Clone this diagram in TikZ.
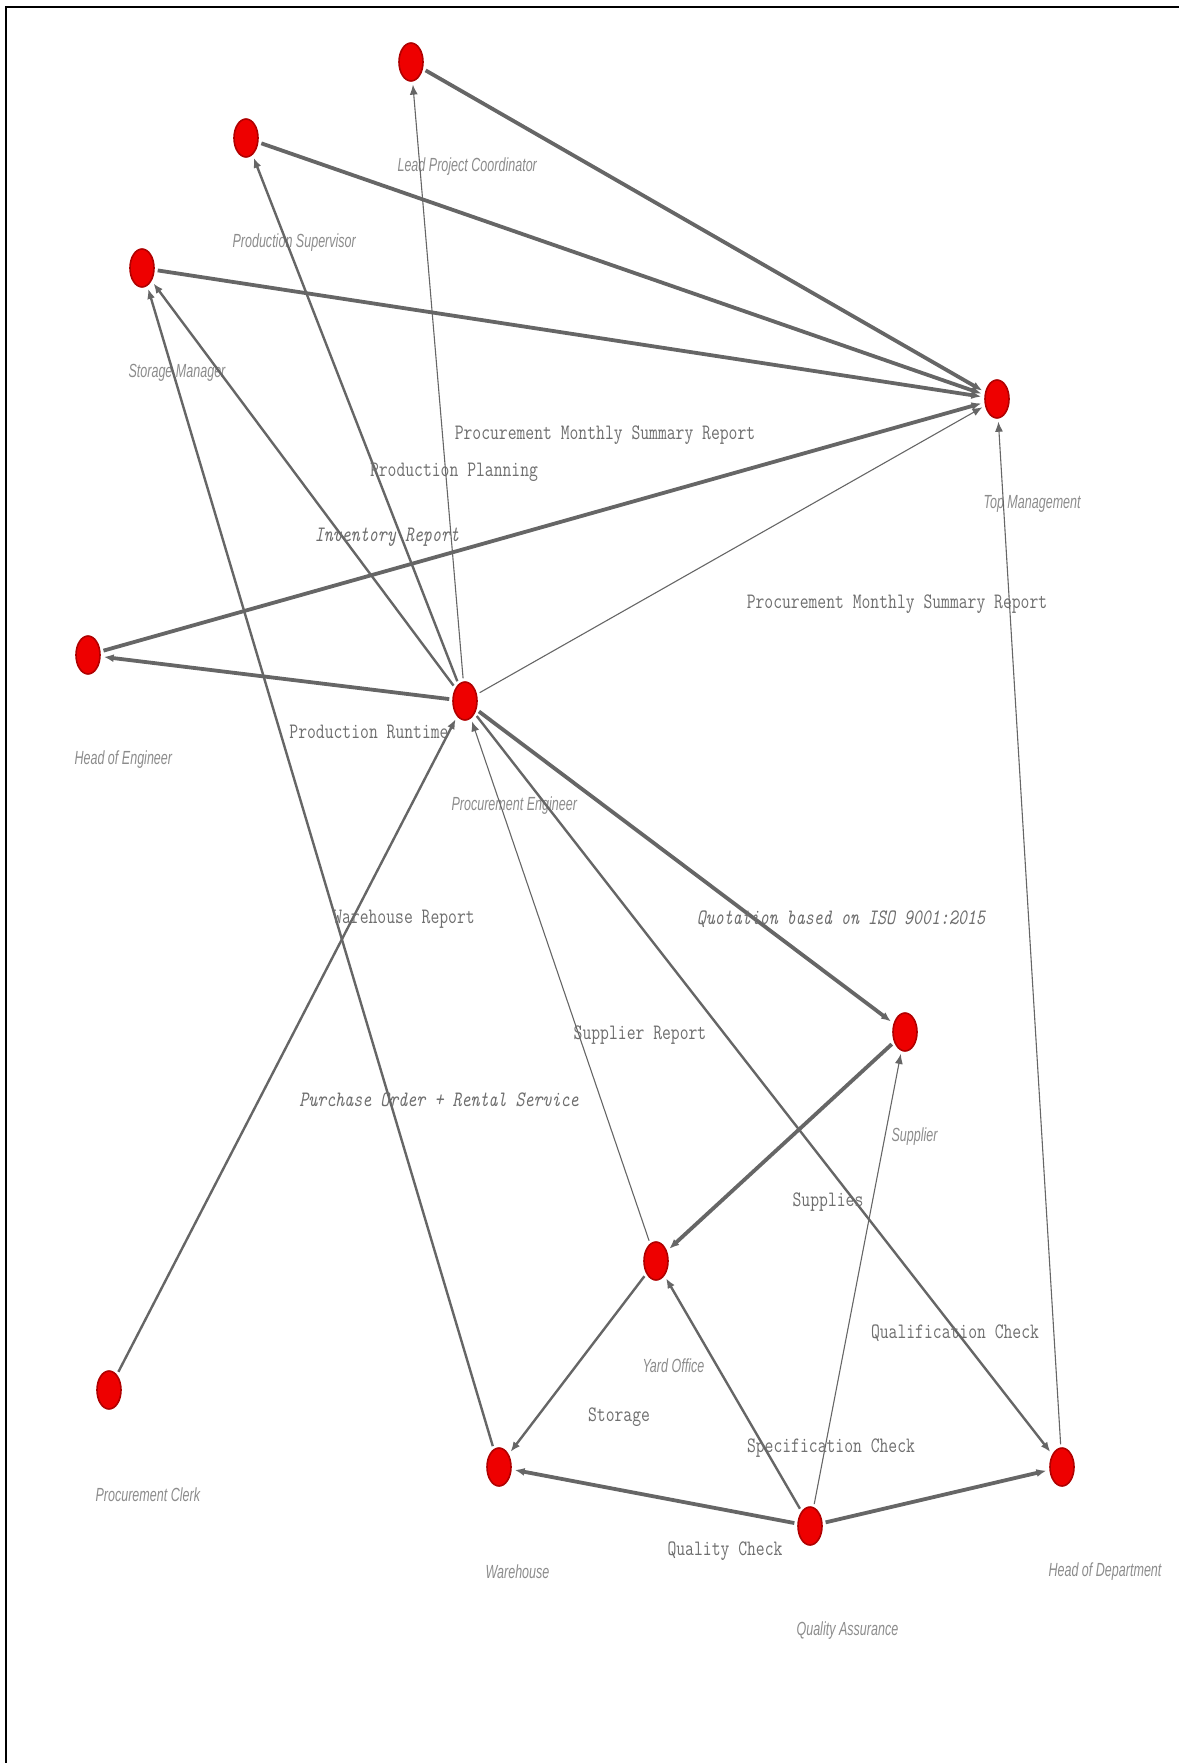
\documentclass[tikz,border=0pt]{standalone}
\usepackage{fontspec}
\usetikzlibrary{shapes.geometric,arrows.meta}
\newfontfamily\flowfont[FakeStretch=0.78]{Latin Modern Mono}
\newfontfamily\rolefont[FakeStretch=0.66]{Liberation Sans}
\definecolor{nodered}{HTML}{EE0000}
\definecolor{noderim}{HTML}{B00000}
\definecolor{linkgray}{HTML}{666666}
\definecolor{flowgray}{HTML}{6E6E6E}
\definecolor{rolegray}{HTML}{8C8C8C}
\tikzset{
    heavyedge/.style={line width=3.8pt},
    midedge/.style={line width=2.4pt},
    lightedge/.style={line width=1.1pt}
}
\begin{document}
\begin{tikzpicture}[x=1pt,y=-1pt,>={Latex[length=10pt,width=8pt]}]
            \useasboundingbox (0,0) rectangle (1179,1763);
            \draw[line width=2.5pt] (6,1763) -- (6,7) -- (1179,7);

            \begin{scope}[every node/.style={ellipse,draw=noderim,fill=nodered,line width=1.6pt,minimum width=24pt,minimum height=38pt,inner sep=0pt}]
                \node (lpc) at (411,62) {};
                \node (ps) at (246,138) {};
                \node (sm) at (142,268) {};
                \node (tm) at (997,399) {};
                \node (he) at (88,655) {};
                \node (pe) at (465,701) {};
                \node (sup) at (905,1032) {};
                \node (yo) at (656,1261) {};
                \node (pc) at (109,1390) {};
                \node (wh) at (499,1467) {};
                \node (qa) at (810,1526) {};
                \node (hd) at (1062,1467) {};
            \end{scope}

            \begin{scope}[every node/.style={anchor=west,text=rolegray,font=\rolefont\itshape\fontsize{19}{22}\selectfont}]
                \node (lpclabel) at ([shift={(-17,105)}]lpc.center) {Lead Project Coordinator};
                \node (pslabel) at ([shift={(-17,105)}]ps.center) {Production Supervisor};
                \node (smlabel) at ([shift={(-17,105)}]sm.center) {Storage Manager};
                \node (tmlabel) at ([shift={(-17,105)}]tm.center) {Top Management};
                \node (helabel) at ([shift={(-17,105)}]he.center) {Head of Engineer};
                \node (pelabel) at ([shift={(-17,105)}]pe.center) {Procurement Engineer};
                \node (suplabel) at ([shift={(-17,105)}]sup.center) {Supplier};
                \node (yolabel) at ([shift={(-17,105)}]yo.center) {Yard Office};
                \node (pclabel) at ([shift={(-17,105)}]pc.center) {Procurement Clerk};
                \node (whlabel) at ([shift={(-17,105)}]wh.center) {Warehouse};
                \node (qalabel) at ([shift={(-17,105)}]qa.center) {Quality Assurance};
                \node (hdlabel) at ([shift={(-17,105)}]hd.center) {Head of Department};
            \end{scope}

            \begin{scope}[draw=linkgray,shorten >=3pt,shorten <=3pt]
                \path [->,heavyedge] (lpc) edge (tm);
                \path [->,heavyedge] (ps) edge (tm);
                \path [->,heavyedge] (sm) edge (tm);
                \path [->,heavyedge] (he) edge (tm);
                \path [->,lightedge] (pe) edge (tm);
                \path [->,lightedge] (hd) edge (tm);
                \path [->,heavyedge] (pe) edge (he);
                \path [->,lightedge] (pe) edge (lpc);
                \path [->,midedge] (pe) edge (ps);
                \path [->,midedge] (pe) edge (sm);
                \path [->,midedge] (wh) edge (sm);
                \path [->,midedge] (pc) edge (pe);
                \path [->,lightedge] (yo) edge (pe);
                \path [->,heavyedge] (pe) edge (sup);
                \path [->,midedge] (pe) edge (hd);
                \path [->,heavyedge] (sup) edge (yo);
                \path [->,midedge] (yo) edge (wh);
                \path [->,heavyedge] (qa) edge (wh);
                \path [->,midedge] (qa) edge (yo);
                \path [->,lightedge] (qa) edge (sup);
                \path [->,heavyedge] (qa) edge (hd);
            \end{scope}

            \begin{scope}[every node/.style={text=flowgray,font=\flowfont\fontsize{22}{26}\selectfont}]
                \node (summary1) at (605,435) {Procurement Monthly Summary Report};
                \node (planning) at (454,472) {Production Planning};
                \node (inventory) at (387,537) {\itshape Inventory Report};
                \node (summary2) at (897,604) {Procurement Monthly Summary Report};
                \node (runtime) at (369,732) {Production Runtime};
                \node (whreport) at (404,919) {Warehouse Report};
                \node (quotation) at (841,919) {\itshape Quotation based on ISO 9001:2015};
                \node (supreport) at (640,1035) {Supplier Report};
                \node (purchase) at (439,1100) {\itshape Purchase Order + Rental Service};
                \node (supplies) at (828,1202) {Supplies};
                \node (qualif) at (955,1333) {Qualification Check};
                \node (storage) at (619,1417) {Storage};
                \node (specif) at (831,1448) {Specification Check};
                \node (quality) at (725,1551) {Quality Check};
            \end{scope}
            \end{tikzpicture}
\end{document}
